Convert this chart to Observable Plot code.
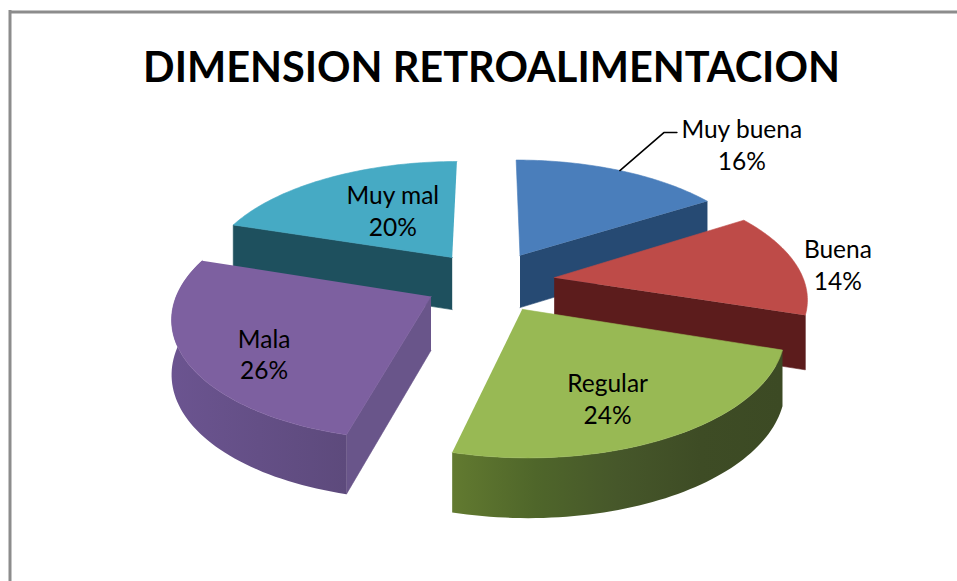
<!DOCTYPE html>
<html><head><meta charset="utf-8">
<script src="https://cdn.jsdelivr.net/npm/d3@7"></script>
<script src="https://cdn.jsdelivr.net/npm/@observablehq/plot@0.6"></script>
<style>html,body{margin:0;padding:0;background:#fff;overflow:hidden}</style>
</head><body><div id="chart"></div>
<script>
const titleText = "DIMENSION RETROALIMENTACION";
const categories = ["Muy buena","Buena","Regular","Mala","Muy mal"];
const values = [16,14,24,26,20];
const topColors = ["#4a7ebb","#be4b48","#98b954","#7d60a0","#46aac4"];
const radialColors = ["#264a73","#5c1c1c","#4a5c29","#69558a","#1e505e"];
const arcStops = [null,null,["#627a30","#4f662a","#46572a","#3e4c25","#3c4a24"],["#6b5490","#5d4a7c"],null];
const radialEnd = ["a1","a1",null,"a0","a0"];
const drawOrder = [0,4,1,3,2];
const labelShift = [[159,-58],[138,-5],[1,17],[-24,20],[18,2]];

// Projection of the tilted pie
const W = 957, H = 581;
const cx = 489, cy = 281, A = 250, TA = 117, persp = 0.15, explode = 0.262, depth = 53.2, depthPersp = 0.095;
const rad = d => d * Math.PI / 180;
const project = (X, Y, Z = 0) => {
  const w = 1 + persp * Y;
  return {x: cx + A * X / w, y: cy - TA * Y / w + depth * Z / (1 + depthPersp * Y)};
};
let acc = 0;
const slices = values.map((v, i) => {
  const a0 = acc * 3.6; acc += v; const a1 = acc * 3.6; const mid = (a0 + a1) / 2;
  return {i, a0, a1, mid, ox: explode * Math.sin(rad(mid)), oy: explode * Math.cos(rad(mid))};
});
const pt = (s, a, r, Z = 0) => project(s.ox + r * Math.sin(rad(a)), s.oy + r * Math.cos(rad(a)), Z);
const arcAngles = (a0, a1) => d3.range(0, 61).map(k => a0 + (a1 - a0) * k / 60);

const face = (pts, color) => Plot.line(pts, {x: "x", y: "y", fill: color, stroke: color, strokeWidth: 0.6, curve: "linear"});
const NS = "http://www.w3.org/2000/svg";
const defs = () => {
  const d = document.createElementNS(NS, "defs");
  arcStops.forEach((stops, i) => {
    if (!stops) return;
    const g = document.createElementNS(NS, "linearGradient");
    g.setAttribute("id", `arc${i}`);
    stops.forEach((c, k) => {
      const st = document.createElementNS(NS, "stop");
      st.setAttribute("offset", k / (stops.length - 1));
      st.setAttribute("stop-color", c);
      g.append(st);
    });
    d.append(g);
  });
  return d;
};
const marks = [defs];
marks.push(Plot.ruleY([11.5], {x1: 9, x2: W, stroke: "#8c8c8c", strokeWidth: 3}));
marks.push(Plot.ruleX([9.5], {y1: 10, y2: H, stroke: "#8c8c8c", strokeWidth: 3}));
for (const i of drawOrder) {
  const s = slices[i];
  if (radialEnd[i]) {
    const a = s[radialEnd[i]];
    marks.push(face([pt(s,a,0),pt(s,a,1),pt(s,a,1,1),pt(s,a,0,1)], radialColors[i]));
  }
  const angs = arcAngles(s.a0, s.a1);
  if (arcStops[i]) {
    marks.push(Plot.line([...angs.map(a => pt(s,a,1)), ...angs.slice().reverse().map(a => pt(s,a,1,1))],
      {x: "x", y: "y", fill: `url(#arc${i})`, stroke: "none", curve: "linear"}));
  }
  marks.push(face([pt(s,0,0), ...angs.map(a => pt(s,a,1))], topColors[i]));
}
// leader line for the first slice
const s0 = slices[0], la = pt(s0, s0.mid, 1);
marks.push(Plot.line([la, {x: la.x + 44, y: la.y - 38}, {x: la.x + 57, y: la.y - 38}], {x: "x", y: "y", stroke: "#000", strokeWidth: 1.6}));
// labels
const labels = slices.map(s => {
  const p = pt(s, s.mid, 0.6);
  return {x: p.x + labelShift[s.i][0], y: p.y + labelShift[s.i][1], t: `${categories[s.i]}\n${values[s.i]}%`};
});
marks.push(Plot.text(labels, {x: "x", y: "y", text: "t", fontSize: 24.5, fontFamily: "Lato", lineHeight: 1.3, fill: "#000"}));
marks.push(Plot.text([titleText], {x: () => 491, y: () => 68, text: d => d, fontSize: 41.5, fontWeight: 700, fontFamily: "Lato", fill: "#000"}));

const chart = Plot.plot({
  width: W, height: H, margin: 0,
  x: {domain: [0, W], range: [0, W], axis: null},
  y: {domain: [0, H], range: [0, H], axis: null},
  style: {background: "#fff"},
  marks
});
document.getElementById("chart").append(chart);
</script></body></html>
